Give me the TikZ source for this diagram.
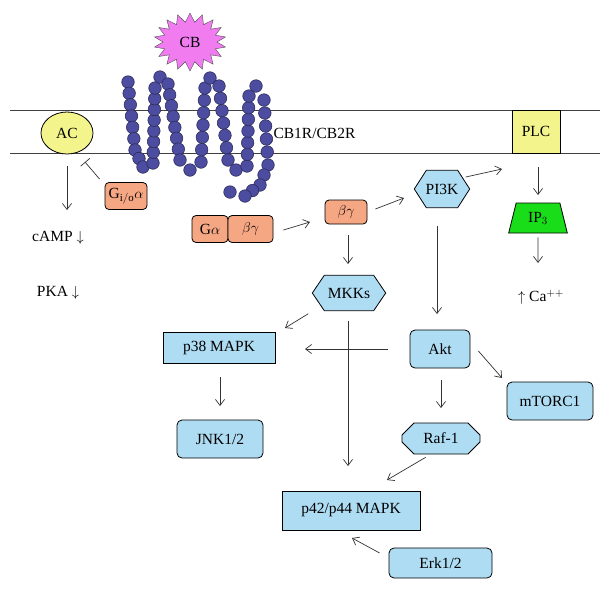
\documentclass[tikz,border=0pt]{standalone}
\usepackage{fontspec}
\setmainfont{Liberation Serif}
\usetikzlibrary{arrows.meta,shapes.geometric,shapes.symbols,shapes.misc,calc}
\definecolor{lblue}{HTML}{AEDCF2}
\definecolor{orng}{HTML}{F5A783}
\definecolor{ylw}{HTML}{F4F48C}
\definecolor{bead}{HTML}{4C4CA0}
\definecolor{cbpink}{HTML}{F07CF0}
\begin{document}
\begin{tikzpicture}[x=1pt,y=-1pt,font=\fontsize{15.5}{18}\selectfont,
  ar/.style={-{Straight Barb[length=6pt,width=9pt]},line width=0.7pt,black!80},
  rbox/.style={draw,fill=lblue,rounded corners=5pt,line width=0.8pt},
  sbox/.style={draw,fill=lblue,line width=0.8pt},
  obox/.style={draw,fill=orng,rounded corners=4pt,line width=0.8pt},
  hexa/.style={draw=none,inner sep=0pt},
  beadst/.style={fill=bead,draw=bead!50!black,line width=0.5pt}]
\useasboundingbox (0,0) rectangle (610,590);
% membrane
\draw[line width=0.7pt,black!75] (10,110) -- (600,110) (10,153) -- (600,153);
% CB
\node[starburst,starburst points=18,starburst point height=9pt,random starburst=0,fill=cbpink,draw=black!70,minimum width=72pt,minimum height=58pt] (cb) at (190,42) {CB};
% receptor beads
\fill[beadst] (128,82) circle (6.3pt);
\foreach \ax/\ay/\bx/\by/\n in {128/82/135/150/6, 135/150/143/167/2, 143/167/153/163/1, 153/163/155/88/7, 155/88/160/77/1, 160/77/168/84/1, 168/84/180/160/7, 180/160/190/170/1, 190/170/201/162/1, 201/162/205/88/6, 205/88/210/78/1, 210/78/219/86/1, 219/86/228/160/6, 228/160/236/170/1, 236/170/247/166/1, 247/166/249/96/6, 249/96/256/86/1, 256/86/264/100/1, 264/100/268/165/5, 268/165/260/185/2, 260/185/245/196/2, 245/196/230/192/1}{
  \foreach \i in {1,...,\n}{
    \fill[beadst] ($(\ax,\ay)!{\i/\n}!(\bx,\by)$) circle (6.3pt);}}
\node[anchor=west] (cbr) at (270,133) {CB1R/CB2R};
% AC and PLC
\node[ellipse,draw,fill=ylw,minimum width=52pt,minimum height=42pt,line width=0.8pt] (ac) at (67,133) {AC};
\node[draw,fill=ylw,minimum width=48pt,minimum height=43pt,line width=0.8pt] (plc) at (536,131.5) {PLC};
% G proteins
\node[obox,minimum width=42pt,minimum height=27pt,inner sep=2pt] (gi) at (126,196) {G$_{\mathrm{i/o}}\alpha$};
\node[obox,minimum width=36pt,minimum height=27pt] (ga) at (210,229) {G$\alpha$};
\node[obox,minimum width=45pt,minimum height=27pt] (bg1) at (250.5,229) {$\beta\gamma$};
\node[obox,minimum width=42pt,minimum height=24pt] (bg2) at (346,212) {$\beta\gamma$};
% hexagons
\node[hexa,minimum width=55pt,minimum height=37pt] (pi3k) at (442,189) {};
\node[hexa,minimum width=73pt,minimum height=35pt] (mkk) at (349,293) {};
\foreach \n in {pi3k,mkk}{
 \draw[fill=lblue,line width=0.8pt] (\n.west) -- ($(\n.north west)+(12,0)$) -- ($(\n.north east)+(-12,0)$) -- (\n.east) -- ($(\n.south east)+(-12,0)$) -- ($(\n.south west)+(12,0)$) -- cycle;}
\node at (pi3k) {PI3K};
\node at (mkk) {MKKs};
% IP3
\node[trapezium,trapezium left angle=76,trapezium right angle=76,draw,fill=green!85!black!90,minimum width=42pt,minimum height=30pt,inner sep=2pt,line width=0.8pt] (ip3) at (538,218) {IP$_3$};
\node (ca) at (541,297) {$\uparrow$ Ca$^{++}$};
\node (camp) at (58,238) {cAMP $\downarrow$};
\node (pka) at (58,293) {PKA $\downarrow$};
% blue boxes
\node[sbox,minimum width=112pt,minimum height=31pt] (p38) at (219,347.5) {p38 MAPK};
\node[rbox,minimum width=60pt,minimum height=38pt] (akt) at (440,349) {Akt};
\node[rbox,minimum width=86pt,minimum height=38pt] (jnk) at (220,439) {JNK1/2};
\node[rbox,minimum width=86pt,minimum height=38pt] (mtor) at (550,401) {mTORC1};
\node[chamfered rectangle,chamfered rectangle xsep=6pt,chamfered rectangle ysep=6pt,draw,fill=lblue,minimum width=78pt,minimum height=31pt,line width=0.8pt] (raf) at (441,438.5) {Raf-1};
\node[sbox,minimum width=138pt,minimum height=39pt] (p42) at (351,510.5) {p42/p44 MAPK};
\node[rbox,minimum width=103pt,minimum height=30pt] (erk) at (440.5,563) {Erk1/2};
% connectors
\draw[line width=0.7pt,black!80,-{Bar[width=12pt]}] (gi.north west) ++(-5,-3) -- (85,162);
\draw[ar] (ac.south) ++(0,12) -- (67,210);
\draw[ar] (bg1.east) ++(10,1) -- (310,222);
\draw[ar] (bg2.east) ++(8,-3) -- (404,198);
\draw[ar] (pi3k.east) ++(-4,-12) -- (502,169);
\draw[ar] (plc.south) ++(2,14) -- (538,195);
\draw[ar] (ip3.south) ++(0,4) -- (538,263);
\draw[ar] (bg2.south) ++(2,11) -- (348,264);
\draw[ar] (mkk.south west) ++(-4,3) -- (285,328);
\draw[ar] (pi3k.south) ++(-5,18) -- (437,314);
\draw[ar] (mkk.south) ++(-1,10) -- (348,466);
\draw[ar] (akt.west) ++(-22,0) -- (305,349);
\draw[ar] (p38.south) ++(1,14) -- (220,406);
\draw[ar] (akt.east) ++(8,2) -- (502,378);
\draw[ar] (akt.south) ++(1,12) -- (441,408);
\draw[ar] (raf.south west) ++(18,9) -- (387,480);
\draw[ar] (erk.west) ++(-9,-10) -- (352,538);
\end{tikzpicture}
\end{document}
